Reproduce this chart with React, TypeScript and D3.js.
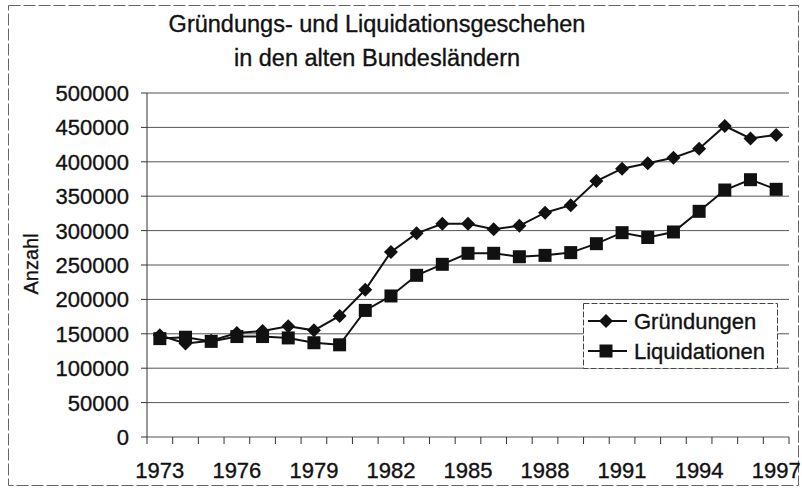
import React from "react";
import * as d3 from "d3";

const years = d3.range(1973, 1998).map(String);
const gruendungen = [148000, 136000, 140000, 151000, 154000, 161000, 155000, 176000, 214000, 269000, 296000, 310000, 310000, 302000, 307000, 326000, 337000, 372000, 390000, 398000, 406000, 419000, 452000, 434000, 439000];
const liquidationen = [143000, 145000, 139000, 146000, 146000, 144000, 137000, 134000, 184000, 205000, 235000, 251000, 267000, 267000, 262000, 264000, 268000, 281000, 297000, 290000, 298000, 328000, 359000, 374000, 360000];
const xTickLabels = ["1973", "1976", "1979", "1982", "1985", "1988", "1991", "1994", "1997"];
const yTicks = d3.range(0, 500001, 50000);
const titleLines = ["Gründungs- und Liquidationsgeschehen", "in den alten Bundesländern"];
const seriesNames = ["Gründungen", "Liquidationen"];

const W = 802, H = 489;
const L = 147, R = 789, T = 93, B = 437;
const FONT = "'Liberation Sans', Arial, sans-serif";

export default function App() {
  const x = d3.scaleBand<string>().domain(years).range([L, R]).padding(0);
  const y = d3.scaleLinear().domain([0, 500000]).range([B, T]);
  const cx = (yr: string) => (x(yr) as number) + x.bandwidth() / 2;
  const line = d3.line<number>().x((_, i) => cx(years[i])).y((d) => y(d));
  const diamond = (px: number, py: number, r = 7) => `M${px},${py - r}L${px + r},${py}L${px},${py + r}L${px - r},${py}Z`;
  const sq = 13;
  const txt = { fill: "#111", stroke: "#111", strokeWidth: 0.35 };

  return (
    <svg width={W} height={H} style={{ position: "absolute", left: 0, top: 0, background: "#fff" }} fontFamily={FONT}>
      <rect x={8.5} y={5.5} width={790} height={480} fill="none" stroke="#666" strokeWidth={1} strokeDasharray="12,3" />
      {titleLines.map((t, i) => (
        <text key={i} x={377} y={32 + i * 34} textAnchor="middle" fontSize={23.5} {...txt}>{t}</text>
      ))}
      {yTicks.map((v) => (
        <g key={v}>
          <line x1={L} x2={R} y1={y(v)} y2={y(v)} stroke="#555" strokeWidth={1} />
          <line x1={L - 6} x2={L} y1={y(v)} y2={y(v)} stroke="#333" />
          <text x={129} y={y(v) + 8} textAnchor="end" fontSize={22} {...txt}>{v}</text>
        </g>
      ))}
      <line x1={L} x2={L} y1={T} y2={B} stroke="#333" />
      {d3.range(0, years.length + 1).map((i) => (
        <line key={i} x1={L + i * x.bandwidth()} x2={L + i * x.bandwidth()} y1={B} y2={B + 7} stroke="#333" />
      ))}
      {xTickLabels.map((yr) => (
        <text key={yr} x={cx(yr)} y={478} textAnchor="middle" fontSize={22} {...txt}>{yr}</text>
      ))}
      <text transform={`translate(38,264) rotate(-90)`} textAnchor="middle" fontSize={20} {...txt}>Anzahl</text>
      <path d={line(gruendungen) || ""} fill="none" stroke="#111" strokeWidth={2} />
      <path d={line(liquidationen) || ""} fill="none" stroke="#111" strokeWidth={2} />
      {gruendungen.map((v, i) => (
        <path key={"g" + i} d={diamond(cx(years[i]), y(v))} fill="#111" />
      ))}
      {liquidationen.map((v, i) => (
        <rect key={"l" + i} x={cx(years[i]) - sq / 2} y={y(v) - sq / 2} width={sq} height={sq} fill="#111" />
      ))}
      <rect x={583.5} y={303.5} width={194} height={65} fill="#fff" stroke="#444" strokeDasharray="6,2" />
      <line x1={588} x2={627} y1={321} y2={321} stroke="#111" strokeWidth={2} />
      <path d={diamond(606, 321)} fill="#111" />
      <text x={634} y={329} fontSize={22} {...txt}>{seriesNames[0]}</text>
      <line x1={588} x2={627} y1={351} y2={351} stroke="#111" strokeWidth={2} />
      <rect x={606 - sq / 2} y={351 - sq / 2} width={sq} height={sq} fill="#111" />
      <text x={634} y={359} fontSize={22} {...txt}>{seriesNames[1]}</text>
    </svg>
  );
}
